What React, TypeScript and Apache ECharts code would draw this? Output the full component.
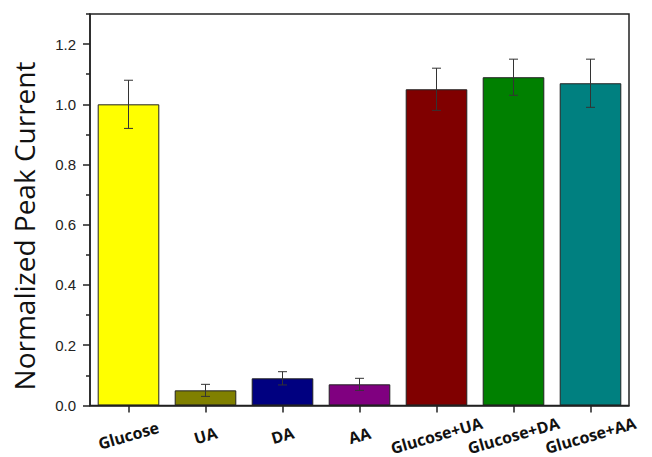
import React, { useEffect, useRef } from "react";
import * as echarts from "echarts";

const categories = ["Glucose", "UA", "DA", "AA", "Glucose+UA", "Glucose+DA", "Glucose+AA"];
const values = [1.0, 0.05, 0.09, 0.07, 1.05, 1.09, 1.07];
const errors = [0.08, 0.02, 0.022, 0.02, 0.07, 0.06, 0.08];
const colors = ["#FFFF00", "#808000", "#000080", "#800080", "#800000", "#008000", "#008080"];
const majorTicks = [0, 0.2, 0.4, 0.6, 0.8, 1.0, 1.2];
const minorTicks = [0.1, 0.3, 0.5, 0.7, 0.9, 1.1, 1.3];
const yTitle = "Normalized Peak Current";

export default function App() {
  const ref = useRef<HTMLDivElement>(null);
  useEffect(() => {
    if (!ref.current) return;
    const chart = echarts.init(ref.current, undefined, { renderer: "svg" });
    const option: any = {
      animation: false,
      backgroundColor: "#ffffff",
      grid: {
        left: 90,
        top: 14,
        right: 23,
        bottom: 49,
        show: true,
        borderColor: "#222",
        borderWidth: 1.5,
        containLabel: false,
      },
      xAxis: {
        type: "category",
        data: categories,
        boundaryGap: true,
        axisLine: { show: true, lineStyle: { color: "#222", width: 1.5 } },
        axisTick: { show: true, alignWithLabel: true, inside: false, length: 7, lineStyle: { color: "#222", width: 1.5 } },
        axisLabel: {
          interval: 0,
          rotate: 16,
          align: "center",
          verticalAlign: "middle",
          margin: 30,
          overflow: "none",
          hideOverlap: false,
          fontFamily: "Open Sans",
          fontWeight: "bold",
          fontSize: 16,
          color: "#111",
        },
      },
      yAxis: [
        {
          type: "value",
          min: 0,
          max: 1.3,
          interval: 0.2,
          splitLine: { show: false },
          axisLine: { show: true, lineStyle: { color: "#222", width: 1.5 } },
          axisTick: { show: true, inside: false, length: 7, customValues: majorTicks, lineStyle: { color: "#222", width: 1.5 } },
          axisLabel: {
            customValues: majorTicks,
            formatter: (v: number) => v.toFixed(1),
            fontFamily: "Liberation Sans",
            fontSize: 15,
            color: "#222",
            margin: 14,
          },
        },
        {
          type: "value",
          min: 0,
          max: 1.3,
          position: "left",
          splitLine: { show: false },
          axisLine: { show: false },
          axisTick: { show: true, inside: false, length: 4, customValues: minorTicks, lineStyle: { color: "#222", width: 1.5 } },
          axisLabel: { show: false },
        },
      ],
      graphic: [
        {
          type: "text",
          x: 24,
          y: 226,
          rotation: Math.PI / 2,
          style: {
            text: yTitle,
            fontFamily: "Open Sans",
            fontSize: 28,
            fill: "#111",
            textAlign: "center",
            textVerticalAlign: "middle",
          },
        },
      ],
      series: [
        {
          type: "bar",
          data: values.map((v, i) => ({ value: v, itemStyle: { color: colors[i] } })),
          barCategoryGap: "20%",
          itemStyle: { borderColor: "#222", borderWidth: 1 },
        },
        {
          type: "custom",
          data: values.map((v, i) => [i, v - errors[i], v + errors[i]]),
          z: 10,
          renderItem: (params: any, api: any) => {
            const i = api.value(0);
            const lo = api.coord([i, api.value(1)]);
            const hi = api.coord([i, api.value(2)]);
            const hw = 4.5;
            const style = { stroke: "#333", lineWidth: 1 };
            return {
              type: "group",
              children: [
                { type: "line", shape: { x1: hi[0], y1: hi[1], x2: lo[0], y2: lo[1] }, style },
                { type: "line", shape: { x1: hi[0] - hw, y1: hi[1], x2: hi[0] + hw, y2: hi[1] }, style },
                { type: "line", shape: { x1: lo[0] - hw, y1: lo[1], x2: lo[0] + hw, y2: lo[1] }, style },
              ],
            };
          },
        },
      ],
    };
    chart.setOption(option);
    return () => chart.dispose();
  }, []);
  return (
    <div
      ref={ref}
      style={{ position: "absolute", left: 0, top: 0, width: 652, height: 457 }}
    />
  );
}
